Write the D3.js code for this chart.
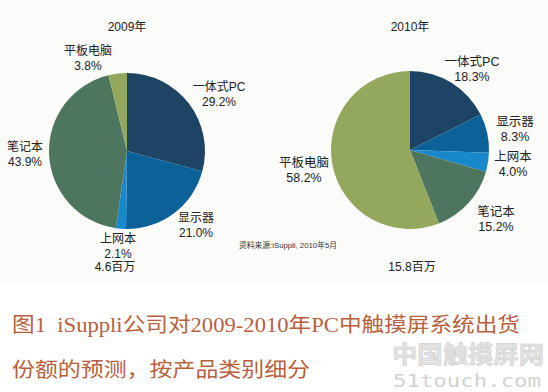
<!DOCTYPE html>
<html>
<head>
<meta charset="utf-8">
<script src="https://cdn.jsdelivr.net/npm/d3@7"></script>
<style>
  body { margin: 0; background: #fff; }
  svg { display: block; }
</style>
</head>
<body>
<svg width="548" height="392"></svg>
<script>
var svg = d3.select("svg");

var categories = ["一体式PC", "显示器", "上网本", "笔记本", "平板电脑"];
var values2009 = [29.2, 21.0, 2.1, 43.9, 3.8];
var values2010 = [18.3, 8.3, 4.0, 15.2, 58.2];
var colors = ["#1e4464", "#0b6198", "#1888cb", "#4e765f", "#93a85c"];

var pies = [
    { year: "2009年", total: "4.6百万", values: values2009, cx: 127, cy: 151, r: 78, size: 12,
      labels: [[219, 87], [196, 218], [118, 239], [25, 147], [88, 51]] },
    { year: "2010年", total: "15.8百万", values: values2010, cx: 410, cy: 150, r: 79, size: 12.5,
      labels: [[472, 62], [515, 122], [513, 157], [496, 212], [304, 163]] }
];

var font = "Liberation Sans, Arial, 'Noto Sans CJK SC', sans-serif";

// faint chart background
svg.append("rect").attr("x", 0).attr("y", 0).attr("width", 548).attr("height", 285)
    .attr("fill", "#fbfbf9");

var pie = d3.pie().sort(null).value(function(d){ return d; });
var arc = d3.arc().innerRadius(0);

pies.forEach(function(p){
    var g = svg.append("g").attr("transform", "translate(" + p.cx + "," + p.cy + ")");
    g.selectAll("path")
        .data(pie(p.values))
        .enter()
        .append("path")
        .attr("d", function(d){ return arc.outerRadius(p.r)(d); })
        .attr("fill", function(d, i){ return colors[i]; });

    svg.append("text")
        .attr("x", p.cx).attr("y", 31)
        .attr("text-anchor", "middle")
        .style("font-family", font).style("font-size", "12px").attr("fill", "#222")
        .text(p.year);

    svg.append("text")
        .attr("x", p.cx - 12 + (p.cx > 300 ? 14 : 0)).attr("y", 271)
        .attr("text-anchor", "middle")
        .style("font-family", font).style("font-size", "12px").attr("fill", "#222")
        .text(p.total);

    p.labels.forEach(function(pos, i){
        var t = svg.append("text")
            .attr("text-anchor", "middle")
            .style("font-family", font).style("font-size", p.size + "px").attr("fill", "#222");
        t.append("tspan").attr("x", pos[0]).attr("y", pos[1] + 4).text(categories[i]);
        t.append("tspan").attr("x", pos[0]).attr("y", pos[1] + 19)
            .text(p.values[i].toFixed(1) + "%");
    });
});

svg.append("text")
    .attr("x", 239).attr("y", 248)
    .style("font-family", font).style("font-size", "8px").attr("fill", "#333")
    .attr("textLength", 98).attr("lengthAdjust", "spacingAndGlyphs")
    .text("资料来源:iSuppli, 2010年5月");

// caption
var capFont = "'Liberation Serif', 'Noto Sans CJK SC', serif";
svg.append("text")
    .attr("x", 12).attr("y", 332)
    .style("font-family", capFont).style("font-size", "20px").style("white-space", "pre")
    .attr("fill", "#b8603c")
    .attr("textLength", 508).attr("lengthAdjust", "spacingAndGlyphs")
    .text("图1  iSuppli公司对2009-2010年PC中触摸屏系统出货");
svg.append("text")
    .attr("x", 12).attr("y", 377)
    .style("font-family", capFont).style("font-size", "20px").attr("fill", "#b8603c")
    .attr("textLength", 298).attr("lengthAdjust", "spacingAndGlyphs")
    .text("份额的预测，按产品类别细分");

// watermark
svg.append("text")
    .attr("x", 392).attr("y", 363)
    .style("font-family", "'Noto Sans CJK SC', sans-serif").style("font-size", "24px")
    .style("font-weight", "bold")
    .attr("fill", "#e2e2e2").attr("stroke", "#cacaca").attr("stroke-width", 0.5)
    .attr("textLength", 152).attr("lengthAdjust", "spacingAndGlyphs")
    .text("中国触摸屏网");
svg.append("text")
    .attr("x", 393).attr("y", 387)
    .style("font-family", "'DejaVu Sans Mono', monospace").style("font-size", "17px")
    .attr("fill", "#d2d2d2")
    .attr("textLength", 148).attr("lengthAdjust", "spacingAndGlyphs")
    .text("51touch.com");
</script>
</body>
</html>
